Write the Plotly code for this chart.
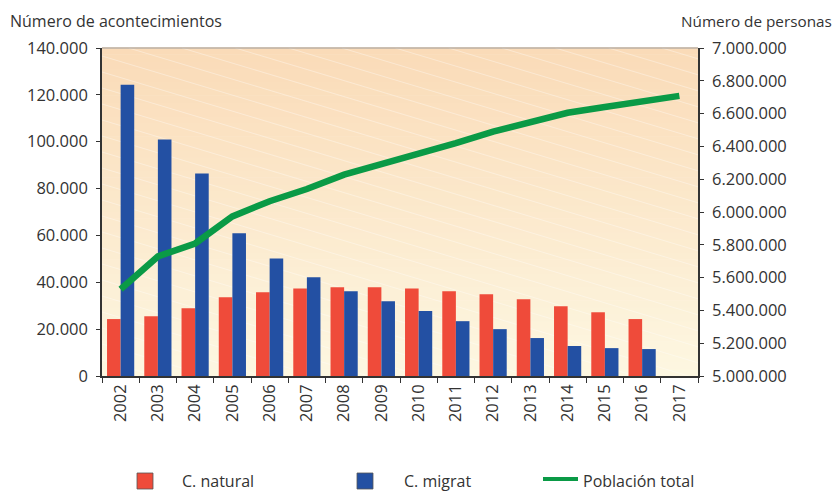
import plotly.graph_objects as go

years = [str(y) for y in range(2002, 2018)]
natural = [24300, 25500, 28900, 33600, 35700, 37400, 37900, 37900, 37400, 36200, 34900, 32800, 29800, 27200, 24300, None]
migrat = [124300, 100900, 86400, 60900, 50200, 42100, 36200, 31900, 27700, 23400, 20000, 16200, 12800, 11900, 11500, None]
poblacion = [5529000, 5729000, 5808000, 5973000, 6066000, 6140000, 6228000, 6289000, 6360000, 6420000, 6490000, 6550000, 6605000, 6640000, 6674000, 6708000]

FONT = "Open Sans"
TXT = "#333333"
RED = "#EF4B3A"
BLUE = "#2350A3"
GREEN = "#0A9A46"

# body margin is removed by post_script, so the figure fills the window
OFF = 0
W, H = 839 - OFF, 492 - OFF
L, R, T, B = 102 - OFF, 141, 48 - OFF, 116
PW, PH = W - L - R, H - T - B


def px(x):  # screen pixel -> paper x
    return (x - OFF - L) / PW


def py(y):  # screen pixel -> paper y
    return 1 - (y - OFF - T) / PH


fig = go.Figure()
fig.add_trace(go.Bar(x=years, y=natural, name="C. natural", marker_color=RED,
                     marker_line_width=0, yaxis="y", showlegend=False))
fig.add_trace(go.Bar(x=years, y=migrat, name="C. migrat", marker_color=BLUE,
                     marker_line_width=0, yaxis="y", showlegend=False))
fig.add_trace(go.Scatter(x=years, y=poblacion, name="Población total", mode="lines",
                         line=dict(color=GREEN, width=6.5), yaxis="y2", showlegend=False))

shapes = []
# background gradient bands
n = 48
top = (250, 219, 184)
bot = (253, 247, 225)
for i in range(n):
    t = i / (n - 1)
    c = tuple(round(bot[k] + (top[k] - bot[k]) * t) for k in range(3))
    shapes.append(dict(type="rect", xref="paper", yref="paper", x0=0, x1=1,
                       y0=i / n, y1=(i + 1) / n + 0.002, fillcolor="rgb(%d,%d,%d)" % c,
                       line_width=0, layer="below"))

# faint diagonal texture lines (descending to the right), clipped to plot area
drop = 0.3 * PW / PH
step = 16 / PH
y0 = step
while y0 < 1 + drop:
    xa = max(0.0, (y0 - 1) / drop)
    xb = min(1.0, y0 / drop)
    if xb > xa:
        shapes.append(dict(type="line", xref="paper", yref="paper", x0=xa, x1=xb,
                           y0=y0 - drop * xa, y1=y0 - drop * xb,
                           line=dict(color="rgba(255,255,255,0.35)", width=1),
                           layer="below"))
    y0 += step

# top border
shapes.append(dict(type="line", xref="paper", yref="paper", x0=0, x1=1, y0=1, y1=1,
                   line=dict(color="#9a9a9a", width=1)))

# manual legend symbols
shapes.append(dict(type="rect", xref="paper", yref="paper", x0=px(137), x1=px(153),
                   y0=py(473), y1=py(489), fillcolor=RED, line=dict(color="#555", width=0.8)))
shapes.append(dict(type="rect", xref="paper", yref="paper", x0=px(357), x1=px(373),
                   y0=py(473), y1=py(489), fillcolor=BLUE, line=dict(color="#555", width=0.8)))
shapes.append(dict(type="line", xref="paper", yref="paper", x0=px(543), x1=px(578),
                   y0=py(479), y1=py(479), line=dict(color=GREEN, width=4)))


def ann(text, x, y, xanchor="left", size=16):
    return dict(text=text, xref="paper", yref="paper", x=x, y=y, xanchor=xanchor,
                yanchor="middle", showarrow=False, font=dict(size=size, color=TXT, family=FONT))


annotations = [
    ann("Número de acontecimientos", px(8), py(21)),
    ann("Número de personas", px(834), py(21), xanchor="right", size=15.3),
    ann("C. natural", px(180), py(481)),
    ann("C. migrat", px(402), py(481)),
    ann("Población total", px(581), py(481)),
]

fig.update_layout(
    width=W, height=H,
    margin=dict(l=L, r=R, t=T, b=B, autoexpand=False),
    paper_bgcolor="white", plot_bgcolor="rgba(0,0,0,0)",
    separators=",.",
    barmode="group", bargap=0.27, bargroupgap=0,
    font=dict(family=FONT, size=16.5, color=TXT),
    shapes=shapes,
    annotations=annotations,
    showlegend=False,
    xaxis=dict(type="category", range=[-0.5, 15.5], tickangle=-90, tickson="boundaries",
               ticks="outside", ticklen=5, tickcolor="#333", showline=True, linecolor="#333",
               linewidth=1.5, showgrid=False, tickfont=dict(size=16.5, color=TXT)),
    yaxis=dict(range=[0, 140000], dtick=20000, tickformat=",d", ticks="outside", ticklen=4,
               tickcolor="#333", showline=True, linecolor="#333", linewidth=1.5,
               showgrid=False, zeroline=False, ticklabelstandoff=5,
               tickfont=dict(size=16.5, color=TXT)),
    yaxis2=dict(range=[5000000, 7000000], dtick=200000, tickformat=",d", overlaying="y",
                side="right", ticks="outside", ticklen=4, tickcolor="#333", showline=True,
                linecolor="#333", linewidth=1.5, showgrid=False, zeroline=False,
                ticklabelstandoff=5, tickfont=dict(size=16.5, color=TXT)),
)

fig.write_html("out.html",
               config={"displayModeBar": False},
               post_script="document.documentElement.style.margin='0';"
                           "document.body.style.margin='0';"
                           "document.body.style.overflow='hidden';")
